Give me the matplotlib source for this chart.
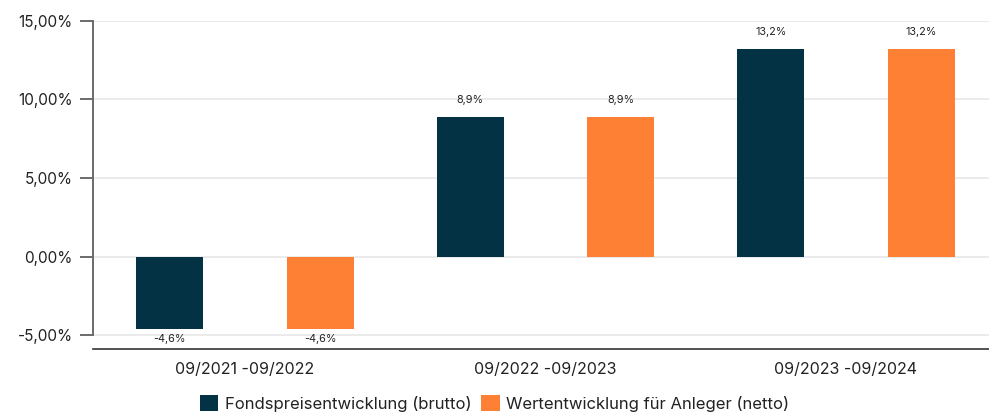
import matplotlib
matplotlib.use("Agg")
import matplotlib.pyplot as plt
import numpy as np

categories = ["09/2021 -09/2022", "09/2022 -09/2023", "09/2023 -09/2024"]
brutto = [-4.6, 8.9, 13.2]
netto = [-4.6, 8.9, 13.2]
series_names = ["Fondspreisentwicklung (brutto)", "Wertentwicklung für Anleger (netto)"]
yticks = [-5, 0, 5, 10, 15]

plt.rcParams['font.family'] = ['Inter', 'DejaVu Sans']

W, H = 989, 419
fig = plt.figure(figsize=(W/100, H/100), dpi=100)
ax = fig.add_axes([93/W, 1-349/H, 1-93/W, (349-21)/H])

c_dark = "#023244"
c_orange = "#FE8034"
x = np.arange(len(categories))
bw = 0.223
off = 0.25
b1 = ax.bar(x - off, brutto, bw, color=c_dark, label=series_names[0], zorder=3)
b2 = ax.bar(x + off, netto, bw, color=c_orange, label=series_names[1], zorder=3)

def fmt(v):
    return f"{v:.1f}".replace(".", ",") + "%"

for bars, vals in ((b1, brutto), (b2, netto)):
    for rect, v in zip(bars, vals):
        cx = rect.get_x() + rect.get_width()/2
        if v >= 0:
            ax.annotate(fmt(v), (cx, v), xytext=(0, 8.5), textcoords="offset points",
                        ha="center", va="bottom", fontsize=7.8, color="#222222")
        else:
            ax.annotate(fmt(v), (cx, v), xytext=(0, -4), textcoords="offset points",
                        ha="center", va="top", fontsize=7.8, color="#222222")

ymin = -5 - 14/15.7
ax.set_ylim(ymin, 15)
ax.set_xlim(-(245-93)/300.5, 2 + (989-846)/300.5)
ax.set_yticks(yticks)
ax.set_yticklabels([f"{t:.2f}".replace(".", ",") + "%" for t in yticks])
ax.set_xticks(x)
ax.set_xticklabels(categories)

ax.grid(axis="y", color="#EBEBEB", linewidth=1.4, zorder=0)
ax.set_axisbelow(True)
for s in ("top", "right"):
    ax.spines[s].set_visible(False)
ax.spines["left"].set_bounds(-5, 15)
ax.spines["left"].set_color("#6B6B6B")
ax.spines["left"].set_linewidth(1.4)
ax.spines["bottom"].set_color("#333333")
ax.spines["bottom"].set_linewidth(1.2)
ax.tick_params(axis="y", length=9.5, width=1.4, color="#6B6B6B", pad=5,
               labelsize=11, labelcolor="#222222")
ax.tick_params(axis="x", length=0, pad=9, labelsize=11.5, labelcolor="#222222")

fig.legend(handles=[b1, b2], labels=series_names, loc="upper center",
           bbox_to_anchor=(0.5, 1-392/H), ncol=2, frameon=False, fontsize=12,
           handlelength=1.1, handleheight=1.1, handletextpad=0.4, columnspacing=0.6,
           labelcolor="#222222", borderaxespad=0, borderpad=0.2)

fig.savefig("out.png", dpi=100)
